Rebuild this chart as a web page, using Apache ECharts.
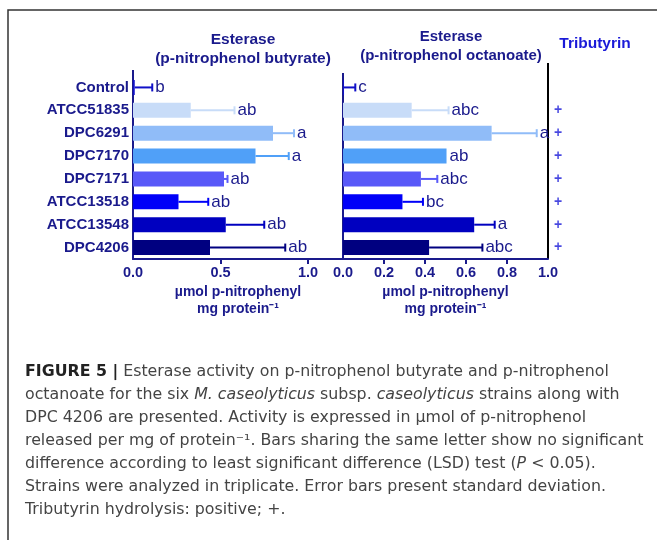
<!DOCTYPE html>
<html>
<head>
<meta charset="utf-8">
<script src="https://cdn.jsdelivr.net/npm/echarts@6/dist/echarts.min.js"></script>
<style>
  html, body { margin: 0; padding: 0; background: #fff; }
  #main { width: 657px; height: 540px; }
</style>
</head>
<body>
<div id="main"></div>
<script>
// 菌株
var strains = ['Control', 'ATCC51835', 'DPC6291', 'DPC7170', 'DPC7171', 'ATCC13518', 'ATCC13548', 'DPC4206'];
// p-nitrophenol butyrate
var butyrateMean = [0.01, 0.33, 0.80, 0.70, 0.52, 0.26, 0.53, 0.44];
var butyrateSd = [0.10, 0.25, 0.12, 0.19, 0.02, 0.17, 0.22, 0.43];
var butyrateLetters = ['b', 'ab', 'a', 'a', 'ab', 'ab', 'ab', 'ab'];
// p-nitrophenol octanoate
var octanoateMean = [0.005, 0.335, 0.725, 0.505, 0.38, 0.29, 0.64, 0.42];
var octanoateSd = [0.055, 0.18, 0.22, 0.0, 0.08, 0.10, 0.10, 0.26];
var octanoateLetters = ['c', 'abc', 'a', 'ab', 'abc', 'bc', 'a', 'abc'];
// Tributyrin
var tributyrin = ['', '+', '+', '+', '+', '+', '+', '+'];

var barColors = ['#1010c8', '#c8dcf8', '#90bcf8', '#50a0f8', '#5858f8', '#0000f8', '#0000c0', '#000080'];
var navy = '#1a1a8c';
var fam = '"Liberation Sans", Arial, sans-serif';
var fontBold = 'bold';

// 误差线 + 字母
function errorItem(params, api) {
    var lo = api.coord([api.value(0), api.value(2)]);
    var hi = api.coord([api.value(1), api.value(2)]);
    var color = barColors[params.dataIndex];
    var children = [];
    if (hi[0] - lo[0] > 0.5) {
        children.push({
            type: 'line',
            shape: { x1: lo[0], y1: lo[1], x2: hi[0], y2: hi[1] },
            style: { stroke: color, lineWidth: 2 }
        });
        children.push({
            type: 'line',
            shape: { x1: hi[0], y1: hi[1] - 4, x2: hi[0], y2: hi[1] + 4 },
            style: { stroke: color, lineWidth: 2 }
        });
    }
    children.push({
        type: 'text',
        x: hi[0] + 3,
        y: hi[1],
        style: {
            text: api.value(3),
            fill: navy,
            font: '17px ' + fam,
            verticalAlign: 'middle',
            align: 'left'
        }
    });
    return { type: 'group', children: children };
}

function errData(mean, sd, letters) {
    return mean.map(function(m, i) {
        return [m, m + sd[i], i, letters[i]];
    });
}

function barData(mean) {
    return mean.map(function(m, i) {
        return { value: m, itemStyle: { color: barColors[i] } };
    });
}

var myChart = echarts.init(document.getElementById('main'));

var captionLines = [
    '{b|FIGURE 5 |} Esterase activity on p-nitrophenol butyrate and p-nitrophenol',
    'octanoate for the six {i|M. caseolyticus} subsp. {i|caseolyticus} strains along with',
    'DPC 4206 are presented. Activity is expressed in \u00b5mol of p-nitrophenol',
    'released per mg of protein\u207b\u00b9. Bars sharing the same letter show no significant',
    'difference according to least significant difference (LSD) test ({i|P} < 0.05).',
    'Strains were analyzed in triplicate. Error bars present standard deviation.',
    'Tributyrin hydrolysis: positive; +.'
];

var capFam = '"DejaVu Sans", "Liberation Sans", sans-serif';
var capSize = 15.8;
var graphics = [{
    type: 'rect',
    shape: { x: 8, y: 10, width: 680, height: 560 },
    style: { fill: 'none', stroke: '#333', lineWidth: 1.5 },
    silent: true
}, {
    type: 'line',
    shape: { x1: 133, y1: 70, x2: 133, y2: 76 },
    style: { stroke: navy, lineWidth: 2 }
}, {
    type: 'line',
    shape: { x1: 343, y1: 73, x2: 343, y2: 76 },
    style: { stroke: navy, lineWidth: 2 }
}, {
    type: 'line',
    shape: { x1: 548, y1: 63, x2: 548, y2: 259 },
    style: { stroke: '#000', lineWidth: 2 }
}];
captionLines.forEach(function(t, i) {
    graphics.push({
        type: 'text',
        left: 25,
        top: 364 + i * 23,
        style: {
            text: t,
            fill: '#444',
            font: capSize + 'px ' + capFam,
            rich: {
                b: { fontWeight: 'bold', fontSize: capSize, fill: '#222', fontFamily: capFam },
                i: { fontStyle: 'italic', fontSize: capSize, fill: '#444', fontFamily: capFam }
            }
        }
    });
});

var axisName = '\u00b5mol p-nitrophenyl\nmg protein\u207b\u00b9';

var option = {
    animation: false,
    title: [{
        text: 'Esterase\n(p-nitrophenol butyrate)',
        left: 238, top: 25, textAlign: 'center',
        textStyle: { color: navy, fontSize: 15.5, fontWeight: fontBold, fontFamily: fam, lineHeight: 19 }
    }, {
        text: 'Esterase\n(p-nitrophenol octanoate)',
        left: 446, top: 22, textAlign: 'center',
        textStyle: { color: navy, fontSize: 15, fontWeight: fontBold, fontFamily: fam, lineHeight: 19 }
    }, {
        text: 'Tributyrin',
        left: 590, top: 31, textAlign: 'center',
        textStyle: { color: '#1a1ad8', fontSize: 15.5, fontWeight: fontBold, fontFamily: fam }
    }],
    grid: [
        { left: 133, width: 210, top: 76, height: 183 },
        { left: 343, width: 205, top: 76, height: 183 },
        { left: 548, width: 20, top: 76, height: 183 }
    ],
    xAxis: [{
        gridIndex: 0, type: 'value', min: 0, max: 1.2,
        name: axisName, nameLocation: 'middle', nameGap: 25,
        nameTextStyle: { color: navy, fontSize: 14, fontWeight: fontBold, fontFamily: fam, lineHeight: 17 },
        axisLine: { show: true, lineStyle: { color: navy, width: 2 } },
        axisTick: { show: true, length: 5, customValues: [0.5, 1.0], lineStyle: { color: navy, width: 2 } },
        axisLabel: {
            customValues: [0, 0.5, 1.0], margin: 6,
            color: navy, fontSize: 14.5, fontWeight: fontBold, fontFamily: fam,
            formatter: function(v) { return v.toFixed(1); }
        },
        splitLine: { show: false }
    }, {
        gridIndex: 1, type: 'value', min: 0, max: 1, interval: 0.2,
        name: axisName, nameLocation: 'middle', nameGap: 25,
        nameTextStyle: { color: navy, fontSize: 14, fontWeight: fontBold, fontFamily: fam, lineHeight: 17 },
        axisLine: { show: true, lineStyle: { color: navy, width: 2 } },
        axisTick: { show: true, length: 5, customValues: [0.2, 0.4, 0.6, 0.8], lineStyle: { color: navy, width: 2 } },
        axisLabel: {
            margin: 6,
            color: navy, fontSize: 14.5, fontWeight: fontBold, fontFamily: fam,
            formatter: function(v) { return v.toFixed(1); }
        },
        splitLine: { show: false }
    }, {
        gridIndex: 2, type: 'value', min: 0, max: 1, show: false
    }],
    yAxis: [{
        gridIndex: 0, type: 'category', data: strains, inverse: true,
        axisLine: { show: true, lineStyle: { color: navy, width: 2 } },
        axisTick: { show: false },
        axisLabel: { margin: 4, color: navy, fontSize: 15, fontWeight: fontBold, fontFamily: fam }
    }, {
        gridIndex: 1, type: 'category', data: strains, inverse: true,
        axisLine: { show: true, lineStyle: { color: navy, width: 2 } },
        axisTick: { show: false },
        axisLabel: { show: false }
    }, {
        gridIndex: 2, type: 'category', data: strains, inverse: true, show: false
    }],
    series: [{
        type: 'bar', xAxisIndex: 0, yAxisIndex: 0,
        barWidth: 15,
        data: barData(butyrateMean)
    }, {
        type: 'custom', xAxisIndex: 0, yAxisIndex: 0,
        renderItem: errorItem,
        encode: { x: [0, 1], y: 2 },
        data: errData(butyrateMean, butyrateSd, butyrateLetters),
        z: 3
    }, {
        type: 'bar', xAxisIndex: 1, yAxisIndex: 1,
        barWidth: 15,
        data: barData(octanoateMean)
    }, {
        type: 'custom', xAxisIndex: 1, yAxisIndex: 1,
        renderItem: errorItem,
        encode: { x: [0, 1], y: 2 },
        data: errData(octanoateMean, octanoateSd, octanoateLetters),
        clip: false,
        z: 3
    }, {
        type: 'scatter', xAxisIndex: 2, yAxisIndex: 2,
        symbolSize: 0,
        data: tributyrin.map(function(t, i) { return [0.5, i, t]; }),
        label: {
            show: true, position: 'inside',
            formatter: function(p) { return p.data[2]; },
            color: '#1a1ad8', fontSize: 14, fontWeight: 'bold', fontFamily: fam
        }
    }],
    graphic: graphics
};

myChart.setOption(option);
</script>
</body>
</html>
